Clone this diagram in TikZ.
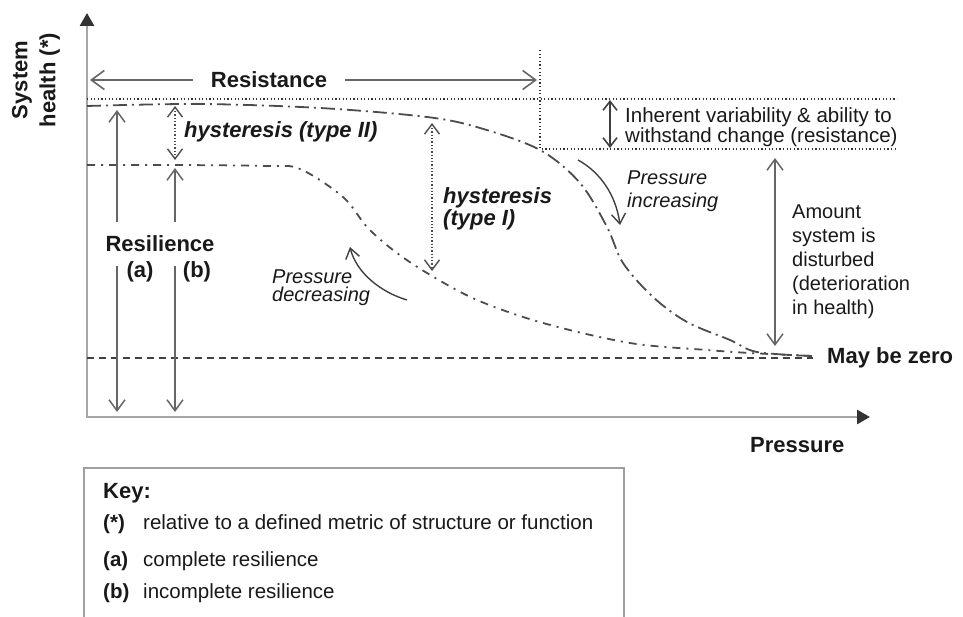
\documentclass[tikz,border=0pt]{standalone}
\usepackage{fontspec}
\setmainfont{Liberation Sans}
\usepackage{tikz}
\usetikzlibrary{arrows.meta}
\usepackage{tkz-euclide}

\newcommand{\boldlbl}{\fontsize{22}{26}\selectfont\bfseries}
\newcommand{\hystlbl}{\fontsize{22}{22}\selectfont\bfseries\itshape}
\newcommand{\notelbl}[1]{\fontsize{20}{#1}\selectfont}
\newcommand{\keylbl}{\fontsize{20.5}{22}\selectfont}

\begin{document}
\begin{tikzpicture}[x=1pt, y=-1pt,
        every node/.style={inner sep=0pt, text=black!90},
        axis/.style={line width=2.8pt, draw=gray!70,
            {Triangle[length=13pt, width=14pt, color=black!80]}-{Triangle[length=13pt, width=14pt, color=black!80]}},
        resarrow/.style={line width=1.7pt, draw=gray!80!black,
            -{Straight Barb[length=13pt, width=19pt, line width=1.6pt]}},
        dimarrow/.style={line width=1.8pt, draw=gray!80!black,
            -{Straight Barb[length=11pt, width=16pt, line width=1.5pt]}},
        hystarrow/.style={line width=1.3pt, draw=gray!60!black, dotted,
            {Straight Barb[length=10pt, width=15pt, line width=1.4pt, color=black!70]}-{Straight Barb[length=10pt, width=15pt, line width=1.4pt, color=black!70]}},
        varrow/.style={line width=2pt, draw=black!75,
            {Straight Barb[length=9pt, width=14pt, line width=1.6pt]}-{Straight Barb[length=9pt, width=14pt, line width=1.6pt]}},
        pressarrow/.style={line width=1.4pt, draw=black!75,
            -{Straight Barb[length=10pt, width=14pt, line width=1.4pt]}},
        guide/.style={line width=1.1pt, draw=black!80, dash pattern=on 1.2pt off 2.4pt},
        zeroline/.style={line width=1.3pt, draw=black!75, dash pattern=on 7pt off 5pt},
        curveinc/.style={line width=1.8pt, draw=black!70, dash pattern=on 14pt off 5pt on 2pt off 5pt},
        curvedec/.style={line width=1.8pt, draw=black!70, dash pattern=on 8pt off 6pt on 2pt off 6pt},
        keybox/.style={line width=1.8pt, draw=gray!75}
    ]
    \useasboundingbox (0,0) rectangle (963,617);
    \tkzDefPoints{87/417/O, 87/13/Y, 870/417/X,
                  90/80/ResL, 537/80/ResR,
                  87/99/Ua, 897/99/Ub, 540/50/Va, 540/149/Vb, 897/149/Lb,
                  87/358/Za, 813/358/Zb,
                  117/110/Rat, 117/222/Ram, 117/266/Ran, 117/412/Rab,
                  175/168/Rbt, 175/222/Rbm, 175/266/Rbn, 175/412/Rbb,
                  175/106/Hta, 175/160/Htb, 432/123/Hoa, 432/271/Hob,
                  610/100/Iva, 610/148/Ivb, 775/158/Ama, 775/346/Amb,
                  578/160/Pia, 620/225/Pib, 407/300/Pda, 350/247/Pdb,
                  84/617/Ka, 84/468/Kb, 624/468/Kc, 624/617/Kd}
    % axes
    \draw[axis] (Y) -- (O) -- (X);
    % guide lines
    \draw[guide] (Ua) -- (Ub);
    \draw[guide] (Va) -- (Vb) -- (Lb);
    \draw[zeroline] (Za) -- (Zb);
    % health curves
    \draw[curveinc] plot[smooth, tension=0.55] coordinates {(87,106) (200,104) (320,108) (427,117)
        (480,128) (540,150) (580,183) (607,227) (623,263) (653,297) (687,322) (730,340) (757,352) (812,356)};
    \draw[curvedec] plot[smooth, tension=0.55] coordinates {(87,165) (173,165) (267,166) (300,169)
        (343,197) (367,227) (393,250) (427,273) (477,300) (543,323) (630,343) (707,350) (750,353) (812,356)};
    % labels
    \node[rotate=90, align=center, font=\fontsize{22}{28}\selectfont\bfseries] (syshealth) at (36,80) {System\\health (*)};
    \node[font=\boldlbl, inner xsep=18pt] (restxt) at (269,80) {Resistance};
    \draw[resarrow] (restxt) -- (ResL);
    \draw[resarrow] (restxt) -- (ResR);
    \node[font=\boldlbl, anchor=base] (resil) at (160,252) {Resilience};
    \node[font=\boldlbl, anchor=base] (resa) at (140,278) {(a)};
    \node[font=\boldlbl, anchor=base] (resb) at (197,278) {(b)};
    \draw[dimarrow] (Ram) -- (Rat);
    \draw[dimarrow] (Ran) -- (Rab);
    \draw[dimarrow] (Rbm) -- (Rbt);
    \draw[dimarrow] (Rbn) -- (Rbb);
    \node[font=\hystlbl, anchor=base west] (hystwo) at (184,138) {hysteresis (type II)};
    \draw[hystarrow] (Hta) -- (Htb);
    \node[font=\hystlbl, anchor=north west, align=left] (hysone) at (443,187) {hysteresis\\(type I)};
    \draw[hystarrow] (Hoa) -- (Hob);
    \node[font=\fontsize{20.5}{19}\selectfont, anchor=north west, align=left] (inherent) at (625,107)
        {Inherent variability \& ability to\\withstand change (resistance)};
    \draw[varrow] (Iva) -- (Ivb);
    \node[font=\notelbl{24}, anchor=north west, align=left] (amount) at (792,205)
        {Amount\\system is\\disturbed\\(deterioration\\in health)};
    \draw[dimarrow, {Straight Barb[length=11pt, width=16pt, line width=1.5pt]}-{Straight Barb[length=11pt, width=16pt, line width=1.5pt]}] (Ama) -- (Amb);
    \node[font=\notelbl{23}\itshape, anchor=north west, align=left] (pinc) at (627,171) {Pressure\\increasing};
    \draw[pressarrow] (Pia) .. controls (600,172) and (616,195) .. (Pib);
    \node[font=\notelbl{18}\itshape, anchor=north west, align=left] (pdec) at (272,270) {Pressure\\decreasing};
    \draw[pressarrow] (Pda) .. controls (380,292) and (356,272) .. (Pdb);
    \node[font=\boldlbl, anchor=base west] (zero) at (827,363) {May be zero};
    \node[font=\boldlbl, anchor=base west] (xlabel) at (750,452) {Pressure};
    % key
    \draw[keybox] (Ka) -- (Kb) -- (Kc) -- (Kd);
    \node[font=\boldlbl, anchor=base west] (keyhead) at (103,498) {Key:};
    \node[font=\keylbl\bfseries, anchor=base west] (keystar) at (103,529) {(*)};
    \node[font=\keylbl, anchor=base west] (keystartxt) at (143,529) {relative to a defined metric of structure or function};
    \node[font=\keylbl\bfseries, anchor=base west] (keya) at (103,566) {(a)};
    \node[font=\keylbl, anchor=base west] (keyatxt) at (143,566) {complete resilience};
    \node[font=\keylbl\bfseries, anchor=base west] (keyb) at (103,598) {(b)};
    \node[font=\keylbl, anchor=base west] (keybtxt) at (143,598) {incomplete resilience};
\end{tikzpicture}
\end{document}
